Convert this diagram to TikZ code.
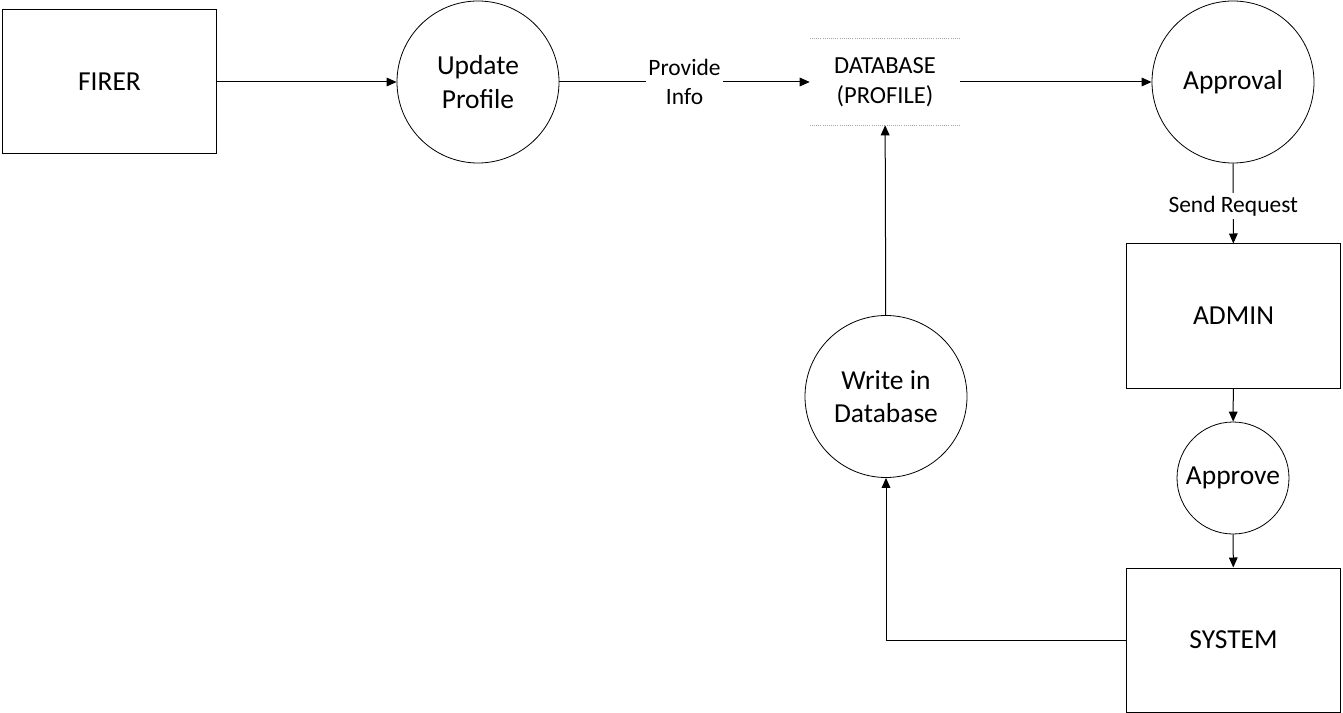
\documentclass[tikz,border=0pt]{standalone}
\usepackage{fontspec}
\setmainfont{Carlito}
\usetikzlibrary{arrows.meta,positioning}

\begin{document}
\begin{tikzpicture}[
  x=0.75pt,y=-0.75pt,
  entity/.style={rectangle,draw,line width=0.75pt,minimum width=161pt,minimum height=108pt,align=center,font=\fontsize{20.6}{25}\selectfont},
  proc/.style={circle,draw,line width=0.6pt,minimum size=121.5pt,inner sep=0pt,align=center,font=\fontsize{20.6}{25}\selectfont},
  store/.style={rectangle,minimum width=112.5pt,minimum height=64.5pt,align=center,font=\fontsize{18.4}{22.5}\selectfont},
  storeline/.style={gray!70,densely dotted,line width=0.6pt},
  flowlabel/.style={fill=white,align=center,inner sep=2pt,font=\fontsize{17.6}{22}\selectfont},
  arrow/.style={-{Triangle[length=7.5pt,width=6.5pt]},line width=0.75pt}
]
\useasboundingbox (0,0) rectangle (1343,713);
\node[entity] (firer) at (109.5,82) {FIRER};
\node[proc] (update) at (478,82) {Update\\Profile};
\node[store] (db) at (885,82) {DATABASE\\(PROFILE)};
\node[proc] (approval) at (1233,82) {Approval};
\node[entity] (admin) at (1233.5,316) {ADMIN};
\node[proc,minimum size=84pt] (approve) at (1233,478) {Approve};
\node[entity] (system) at (1233.5,640) {SYSTEM};
\node[proc] (write) at (886,396.5) {Write in\\Database};
\draw[storeline] (db.north west) -- (db.north east);
\draw[storeline] (db.south west) -- (db.south east);
\draw[arrow] (firer) -- (update);
\draw[arrow] (update) -- node[flowlabel]{Provide\\Info} (db);
\draw[arrow] (db) -- (approval);
\draw[arrow] (approval) -- node[flowlabel,yshift=-2pt]{Send Request} (admin);
\draw[arrow] (admin) -- (approve);
\draw[arrow] (approve) -- (system);
\draw[arrow] (system.west) -| (write.south);
\draw[arrow] (write) -- (db);
\end{tikzpicture}
\end{document}
